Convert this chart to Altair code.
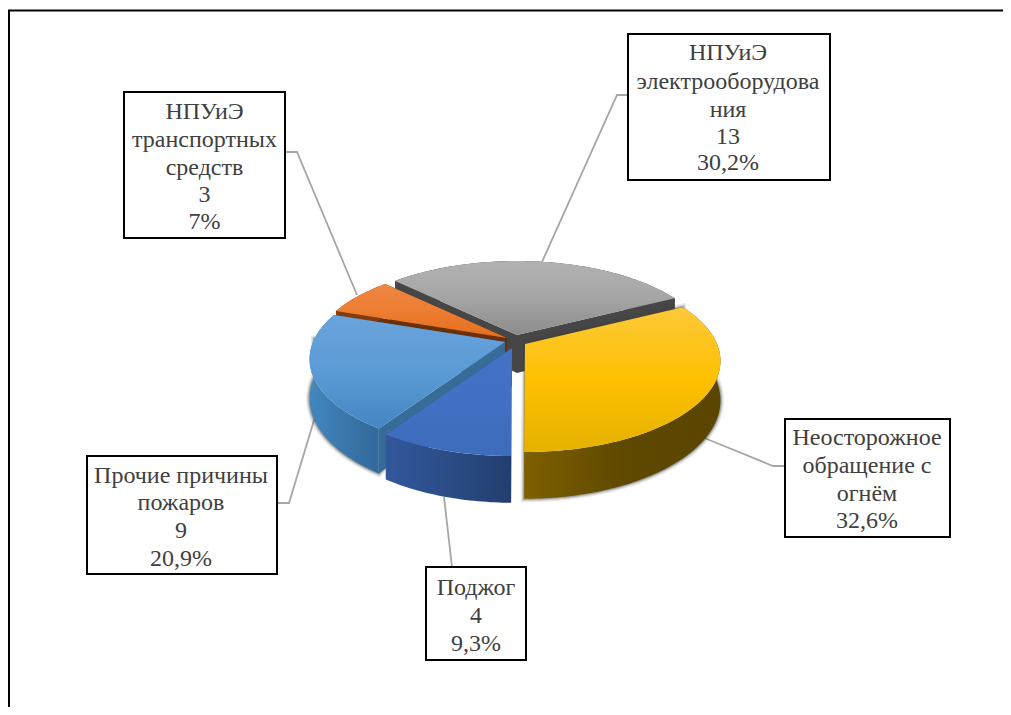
import math
import altair as alt
import pandas as pd

# ---- data ----
causes = ["Неосторожное обращение с огнём", "Поджог", "Прочие причины пожаров",
          "НПУиЭ транспортных средств", "НПУиЭ электрооборудования"]
counts = [14, 4, 9, 3, 13]
first_angle = 63

# ---- labels (one entry per text line) ----
label_lines = [
    ["Неосторожное", "обращение с", "огнём", "32,6%"],
    ["Поджог", "4", "9,3%"],
    ["Прочие причины", "пожаров", "9", "20,9%"],
    ["НПУиЭ", "транспортных", "средств", "3", "7%"],
    ["НПУиЭ", "электрооборудова", "ния", "13", "30,2%"],
]
label_x = [867, 476, 181, 204.5, 728]
label_y = [[438, 466, 494, 521], [588, 616, 644], [476, 503, 531, 559],
           [112, 140, 168, 195, 222], [53, 82, 110, 137, 163]]
boxes = [(785, 419, 950, 537), (426, 567, 526, 660), (87, 456, 277, 574),
         (124, 92, 285, 238), (628, 34, 830, 180)]
leaders = [
    [(785, 466), (773, 466), (702, 437)],
    [(452, 567), (444, 497)],
    [(277, 503), (289, 503), (315, 417)],
    [(285, 152), (297, 152), (357, 295)],
    [(628, 95), (617, 95), (542, 262)],
]

# ---- slice geometry and colours ----
apex = [(525, 344), (512, 348), (505, 342), (507, 338), (517, 335)]
RX, RY, PERSP, DEPTH = 192, 87.8, 0.187, 38
top_stops = [
    ["#fdc93a", "#ffc000", "#e4b200"],
    ["#4472c4", "#4270c2", "#3e6cbc"],
    ["#6aa3dc", "#5b9bd5", "#4486c2"],
    ["#ee8743", "#ed7d31", "#e56e1e"],
    ["#b2b2b2", "#a5a5a5", "#8c8c8c"],
]
side_stops = [
    ["#7f6000", "#5f4900", "#5a4500"],
    ["#32589b", "#2b4c86", "#233e6e"],
    ["#4288be", "#3a78ac", "#32689a"],
    ["#843c0c", "#843c0c", "#843c0c"],
    ["#464646", "#464646", "#464646"],
]
wall_colors = ["#5a4500", "#2b4c86", "#376b98", "#6b2f0a", "#464646"]


def rim(i, th, dz=0.0):
    t = math.radians(th)
    u, v = math.sin(t), math.cos(t)
    w = 1 + PERSP * v
    return [apex[i][0] + RX * u / w, apex[i][1] - RY * v / w + dz * DEPTH / w]


def grad(stops, horizontal=False):
    return alt.LinearGradient(
        gradient="linear", x1=0, y1=0,
        x2=1 if horizontal else 0, y2=0 if horizontal else 1,
        stops=[alt.GradientStop(offset=o, color=c) for o, c in zip([0, 0.5, 1], stops)],
    )


def feature(geom_type, coords):
    return alt.Data(values=[{"type": "Feature", "properties": {},
                             "geometry": {"type": geom_type, "coordinates": coords}}])


def shape(geom_type, coords, **style):
    return alt.Chart(feature(geom_type, coords)).mark_geoshape(**style).project(
        type="identity", scale=1, translate=[-8, -8])


def ring(points):
    return [[list(p) for p in points] + [list(points[0])]]


total = sum(counts)
angles = []
a = first_angle
for c in counts:
    angles.append((a, a + 360 * c / total))
    a += 360 * c / total


def steps(a0, a1):
    n = max(int(abs(a1 - a0)), 2)
    return [a0 + (a1 - a0) * k / n for k in range(n + 1)]


layers = []

# frame of the picture
layers.append(shape("LineString", [[9, 716], [9, 10.5], [1012, 10.5]],
                    filled=False, stroke="#000000", strokeWidth=2))

# leader lines
for pts in leaders:
    layers.append(shape("LineString", [list(p) for p in pts],
                        filled=False, stroke="#a6a6a6", strokeWidth=1.8))

# painter's order: far slices first
for i in [4, 3, 2, 1, 0]:
    a0, a1 = angles[i]
    ap = list(apex[i])
    ap_low = [ap[0], ap[1] + DEPTH]
    arc = [rim(i, t) for t in steps(a0, a1)]
    arc_low = [rim(i, t, 1) for t in steps(a0, a1)]

    # soft shadow round the lower edge of the body
    if i in (0, 2):
        if i == 0:
            outline = [ap, ap_low] + [rim(i, t, 1) for t in steps(a1, a0)] + [rim(i, a0)]
        else:
            outline = [rim(i, t, 1) for t in steps(a0, 272)] + [rim(i, 272), ap]
        for width, op in ((7, 0.12), (4, 0.2), (2, 0.3)):
            layers.append(shape("Polygon", ring(outline), fill="#404040", fillOpacity=0,
                                stroke="#404040", strokeOpacity=op, strokeWidth=width))

    # radial walls
    for th in (a0, a1):
        layers.append(shape("Polygon", ring([ap, rim(i, th), rim(i, th, 1), ap_low]),
                            fill=wall_colors[i]))
    # outer side
    layers.append(shape("Polygon", ring(arc + arc_low[::-1]),
                        fill=grad(side_stops[i], horizontal=True)))
    # top face
    layers.append(shape("Polygon", ring([ap] + arc), fill=grad(top_stops[i])))

# label boxes
for x0, y0, x1, y1 in boxes:
    layers.append(shape("Polygon", ring([(x0, y0), (x1, y0), (x1, y1), (x0, y1)]),
                        fill="#ffffff", stroke="#000000", strokeWidth=2))

# label text
rows = []
for lines, lx, ys in zip(label_lines, label_x, label_y):
    for t, ly in zip(lines, ys):
        rows.append({"x": lx, "y": ly, "t": t})
texts = alt.Chart(pd.DataFrame(rows)).mark_text(
    font="Liberation Serif", fontSize=24, color="#404040", align="center", baseline="middle"
).encode(longitude="x:Q", latitude="y:Q", text="t:N").project(
    type="identity", scale=1, translate=[-8, -8])
layers.append(texts)

chart = alt.layer(*layers).properties(
    width=995, height=699, padding=0, autosize=alt.AutoSizeParams(type="none"),
    background="#ffffff",
).configure_view(stroke=None)

chart.save("out.html", embed_options={"renderer": "svg", "actions": False})
